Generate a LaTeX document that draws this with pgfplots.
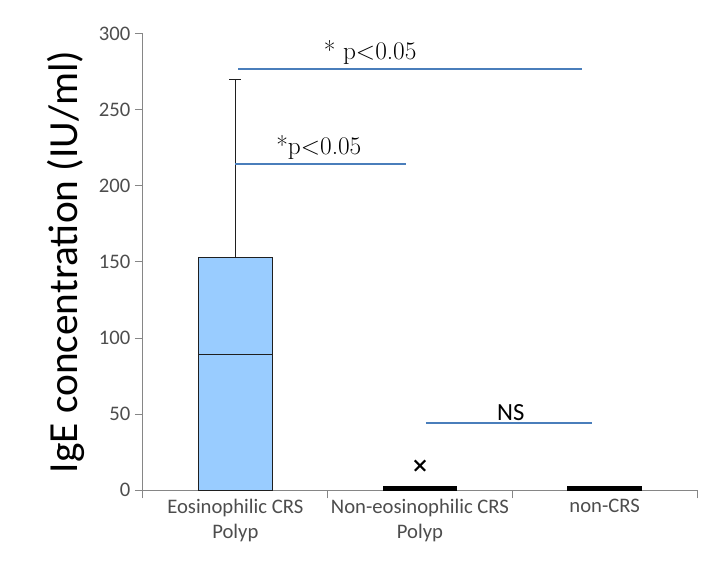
\documentclass[border=0pt]{standalone}
\usepackage{pgfplots}
\pgfplotsset{compat=1.18}
\usepackage{fontspec}
\newfontfamily\calibrifont{Carlito}
\definecolor{axisgray}{HTML}{868686}
\definecolor{labelgray}{HTML}{4D4D4D}
\definecolor{boxblue}{HTML}{99CCFF}
\definecolor{sigblue}{HTML}{4A7EBB}
\definecolor{boxedge}{HTML}{1F1F1F}

\begin{document}
\begin{tikzpicture}
\path[use as bounding box] (-107.25pt,-62pt) rectangle (433.5pt,367.7pt);
\begin{axis}[
  at={(0,0)}, anchor=south west,
  scale only axis, width=415.5pt, height=342.45pt,
  xmin=-0.5, xmax=2.5, ymin=0, ymax=300,
  axis lines*=left,
  axis line style={color=axisgray, line width=0.75pt},
  ytick={0,50,...,300},
  xtick={-0.5,0.5,1.5,2.5}, xticklabels={},
  extra x ticks={0,1,2},
  extra x tick labels={Eosinophilic CRS\\Polyp, Non-eosinophilic CRS\\Polyp, non-CRS},
  extra x tick style={major tick length=0pt},
  tick align=outside,
  major tick length=6pt,
  tick style={color=axisgray, line width=0.75pt},
  /pgf/number format/assume math mode=true,
  yticklabel style={font=\calibrifont\fontsize{15.5}{18}\selectfont, text=labelgray},
  xticklabel style={font=\calibrifont\fontsize{15.5}{19}\selectfont, text=labelgray, align=center, anchor=north, yshift=-3pt},
  ylabel={IgE concentration (IU/ml)},
  ylabel style={font=\calibrifont\fontsize{31}{36}\selectfont, at={(axis description cs:-0.139,0.5)}, anchor=center},
  clip=false,
]
% Eosinophilic CRS polyp: box from Q1=0 to Q3=153, median 89, upper whisker 270
\addplot[boxedge, line width=0.75pt] coordinates {(0,153) (0,270)};
\addplot[boxedge, line width=0.75pt] coordinates {(-0.033,270) (0.033,270)};
\addplot[draw=boxedge, fill=boxblue, line width=0.75pt] coordinates {(-0.2,0) (0.2,0) (0.2,153) (-0.2,153)} -- cycle;
\addplot[boxedge, line width=0.75pt] coordinates {(-0.2,89) (0.2,89)};
% Non-eosinophilic CRS polyp and non-CRS: boxes collapsed near zero
\addplot[draw=black, fill=black, line width=0.75pt] coordinates {(0.8,0) (1.2,0) (1.2,2.2) (0.8,2.2)} -- cycle;
\addplot[draw=black, fill=black, line width=0.75pt] coordinates {(1.8,0) (2.2,0) (2.2,2.2) (1.8,2.2)} -- cycle;
% outlier
\addplot[only marks, mark=x, mark size=5.5pt, line width=1.5pt, black] coordinates {(1,16.2)};
% significance bars
\addplot[sigblue, line width=1.5pt] coordinates {(0.016,277) (1.879,277)};
\addplot[sigblue, line width=1.5pt] coordinates {(0.0,214.4) (0.923,214.4)};
\addplot[sigblue, line width=1.5pt] coordinates {(1.032,44) (1.93,44)};
\node[anchor=base, font=\fontsize{19}{22}\selectfont, inner sep=0pt] at (axis cs:0.73,283) {* p<0.05};
\node[anchor=base, font=\fontsize{19}{22}\selectfont, inner sep=0pt] at (axis cs:0.452,220.3) {*p<0.05};
\node[anchor=base, font=\calibrifont\fontsize{18.5}{20}\selectfont, inner sep=0pt] at (axis cs:1.492,45.6) {NS};
\end{axis}
\end{tikzpicture}
\end{document}
